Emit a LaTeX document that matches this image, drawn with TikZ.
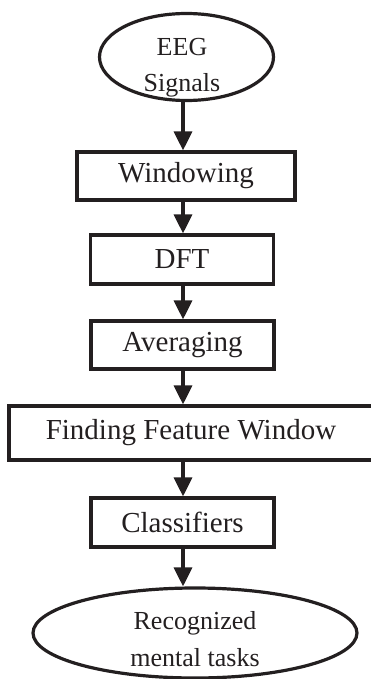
\documentclass[tikz,border=0pt]{standalone}
\usepackage{fontspec}
\setmainfont{Liberation Serif}
\usetikzlibrary{arrows.meta,shapes.geometric}
\definecolor{ink}{HTML}{231F20}
\begin{document}
\begin{tikzpicture}[x=1pt,y=-1pt,
  box/.style={draw=ink, line width=3.2pt, inner sep=0pt, text=ink,
              font=\fontsize{29}{32}\selectfont},
  oval/.style={draw=ink, line width=3.2pt, ellipse, inner sep=0pt},
  lbl/.style={align=center, text=ink, inner sep=0pt, anchor=base},
  arr/.style={draw=ink, line width=3.2pt, -{Triangle[length=19pt,width=18pt]}}]
\useasboundingbox (0,0) rectangle (371,679);
\coordinate (ax) at (183,0);
% nodes
\node[oval, minimum width=174pt, minimum height=87pt] (eeg) at (186.5,57) {};
\node[lbl, font=\fontsize{26}{36}\selectfont] (eegt) at (182,92) {EEG\\Signals};
\node[box, minimum width=218pt, minimum height=48pt] (win) at (186,176) {Windowing};
\node[box, minimum width=183pt, minimum height=49pt] (dft) at (182,259.5) {DFT};
\node[box, minimum width=183pt, minimum height=48pt] (avg) at (182.5,345) {Averaging};
\node[box, minimum width=364pt, minimum height=54pt] (ffw) at (191,433) {Finding Feature Window};
\node[box, minimum width=183pt, minimum height=49pt] (cls) at (182.5,522.5) {Classifiers};
\node[oval, minimum width=324pt, minimum height=90pt] (rec) at (195,633) {};
\node[lbl, font=\fontsize{26}{37}\selectfont] (rect) at (195,666) {Recognized\\mental tasks};
% connectors
\draw[arr] (eeg.south -| ax) -- (win.north -| ax);
\draw[arr] (win.south -| ax) -- (dft.north -| ax);
\draw[arr] (dft.south -| ax) -- (avg.north -| ax);
\draw[arr] (avg.south -| ax) -- (ffw.north -| ax);
\draw[arr] (ffw.south -| ax) -- (cls.north -| ax);
\draw[arr] (cls.south -| ax) -- (rec.north -| ax);
\end{tikzpicture}
\end{document}
